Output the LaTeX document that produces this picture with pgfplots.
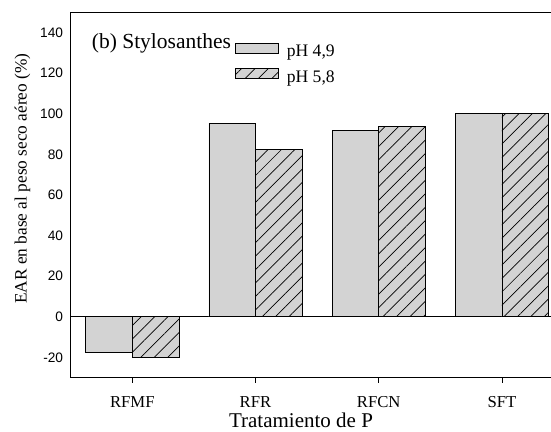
\documentclass[border=0pt]{standalone}
\usepackage{fontspec}
\setmainfont{Liberation Serif}
\newfontfamily\arialfont{Liberation Sans}
\usepackage{pgfplots}
\pgfplotsset{compat=1.18}
\usetikzlibrary{patterns.meta}
\definecolor{barfill}{RGB}{211,211,211}
\pgfplotsset{barlegend/.style={legend image code/.code={\draw[##1] (0pt,-1.3pt) rectangle (42.7pt,8.7pt);}}}
\begin{document}
\begin{tikzpicture}
\begin{axis}[
  at={(70.7pt,-377.7pt)}, anchor=south west,
  scale only axis, width=492.8pt, height=365.4pt,
  xmin=-0.5, xmax=3.5, ymin=-30, ymax=150,
  ybar=0pt, bar width=46.6pt,
  xtick={0,1,2,3}, xticklabels={RFMF,RFR,RFCN,SFT},
  ytick={-20,0,20,40,60,80,100,120,140},
  yticklabels={-20,0,20,40,60,80,100,120,140},
  tick align=outside, xtick pos=bottom, ytick pos=left, major tick length=5pt,
  ytick style={draw=none},
  xtick style={line width=0.8pt, black},
  axis line style={line width=0.8pt, black},
  yticklabel style={font=\arialfont\fontsize{13.7pt}{15pt}\selectfont, inner sep=0pt, xshift=-2.4pt},
  xticklabel style={font=\fontsize{16.7pt}{18pt}\selectfont, inner sep=0pt, yshift=-14pt},
  extra y ticks={0}, extra y tick labels={},
  extra y tick style={grid=major, major grid style={black, line width=0.8pt}, tick style={draw=none}},
  xlabel={Tratamiento de P},
  xlabel style={font=\fontsize{21pt}{23pt}\selectfont, at={(axis description cs:0.4673,-0.1365)}, anchor=base, inner sep=0pt},
  ylabel={EAR en base al peso seco aéreo (\%)},
  ylabel style={font=\fontsize{17.3pt}{19pt}\selectfont, at={(axis description cs:-0.0893,0.545)}, anchor=base, rotate=0, inner sep=0pt},
  legend cell align=left,
  legend style={at={(axis description cs:0.3334,0.9168)}, anchor=north west, draw=none, fill=none, inner sep=0pt, outer sep=0pt,
    row sep=9.9pt, nodes={inner sep=0pt, font=\fontsize{17.6pt}{19pt}\selectfont},
    /tikz/every odd column/.append style={column sep=8.3pt}},
]
\addplot[draw=black, line width=0.8pt, fill=barfill, barlegend]
  coordinates {(0,-17.7) (1,95.4) (2,91.7) (3,100)};
\addlegendentry{pH 4,9}
\addplot[draw=black, line width=0.8pt, fill=barfill,
  postaction={pattern={Lines[angle=45,distance=9.5pt,line width=0.7pt]}, pattern color=black}, barlegend]
  coordinates {(0,-20.2) (1,82.4) (2,93.9) (3,100)};
\addlegendentry{pH 5,8}
\node[anchor=base west, inner sep=0pt, font=\fontsize{21.5pt}{23pt}\selectfont] at (axis description cs:0.0426,0.9015) {(b) Stylosanthes};
\end{axis}
\pgfresetboundingbox
\path[use as bounding box] (0pt,-431pt) rectangle (551pt,0pt);
\end{tikzpicture}
\end{document}
